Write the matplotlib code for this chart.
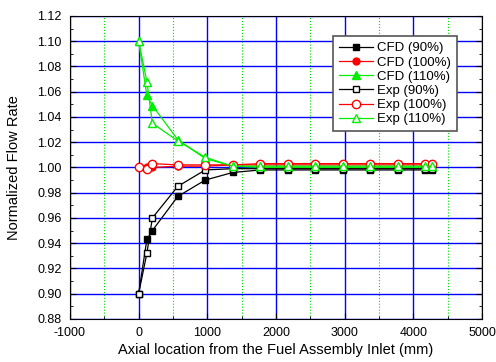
import matplotlib
matplotlib.use("Agg")
import matplotlib.pyplot as plt
from matplotlib.ticker import MultipleLocator

plt.rcParams['font.family'] = ['Liberation Sans', 'DejaVu Sans']
plt.rcParams['axes.unicode_minus'] = False

# axial positions (mm)
x_pos = [0, 120, 200, 570, 970, 1370, 1770, 2170, 2570, 2970, 3370, 3770, 4170, 4270]

cfd_90 = [0.900, 0.943, 0.950, 0.977, 0.990, 0.996, 0.998, 0.998, 0.998, 0.998, 0.998, 0.998, 0.998, 0.998]
cfd_100 = [1.000, 1.000, 1.000, 1.001, 1.001, 1.002, 1.002, 1.002, 1.002, 1.002, 1.002, 1.002, 1.002, 1.002]
cfd_110 = [1.100, 1.057, 1.049, 1.022, 1.007, 1.001, 1.000, 1.000, 1.000, 1.000, 1.000, 1.000, 1.000, 1.000]
exp_90 = [0.900, 0.932, 0.960, 0.985, 0.998, 0.999, 0.999, 0.999, 0.999, 0.999, 0.999, 0.999, 0.999, 0.999]
exp_100 = [1.000, 0.999, 1.003, 1.002, 1.002, 1.002, 1.003, 1.003, 1.003, 1.003, 1.003, 1.003, 1.003, 1.003]
exp_110 = [1.100, 1.068, 1.035, 1.021, 1.008, 1.001, 1.001, 1.001, 1.001, 1.001, 1.001, 1.001, 1.001, 1.001]

fig = plt.figure(figsize=(4.96, 3.62), dpi=100)
ax = fig.add_axes([0.141, 0.119, 0.831, 0.837])

ms = 5
ax.plot(x_pos, cfd_90, color='black', marker='s', ms=ms, lw=0.9, label='CFD (90%)', zorder=3)
ax.plot(x_pos, cfd_100, color='red', marker='o', ms=ms, lw=0.9, label='CFD (100%)', zorder=3)
ax.plot(x_pos, cfd_110, color='#00ee00', marker='^', ms=ms + 1, lw=0.9, label='CFD (110%)', zorder=3)
ax.plot(x_pos, exp_90, color='black', marker='s', ms=ms, lw=0.9, mfc='white', label='Exp (90%)', zorder=3)
ax.plot(x_pos, exp_100, color='red', marker='o', ms=ms + 1, lw=0.9, mfc='white', label='Exp (100%)', zorder=3)
ax.plot(x_pos, exp_110, color='#00ee00', marker='^', ms=ms + 1, lw=0.9, mfc='white', label='Exp (110%)', zorder=3)

ax.set_xlim(-1000, 5000)
ax.set_ylim(0.88, 1.12)
ax.xaxis.set_major_locator(MultipleLocator(1000))
ax.xaxis.set_minor_locator(MultipleLocator(500))
ax.yaxis.set_major_locator(MultipleLocator(0.02))
ax.yaxis.set_minor_locator(MultipleLocator(0.01))
ax.yaxis.set_major_formatter(plt.FuncFormatter(lambda v, p: f"{v:.2f}"))

ax.grid(True, which='major', color='blue', lw=1.0, zorder=1)
ax.grid(True, which='minor', axis='x', color='#00dd00', lw=0.8, ls=':', zorder=1)

ax.tick_params(which='both', direction='in', top=False, right=True, labelsize=9)
ax.tick_params(which='major', length=4)
ax.tick_params(which='minor', length=2.5)
ax.tick_params(axis='x', which='major', pad=6)
ax.tick_params(axis='y', which='major', pad=6)

ax.set_xlabel('Axial location from the Fuel Assembly Inlet (mm)', fontsize=10.5, labelpad=3)
ax.set_ylabel('Normalized Flow Rate', fontsize=10.5, labelpad=12)

leg = ax.legend(loc='upper right', bbox_to_anchor=(0.955, 0.955), fontsize=9.5, fancybox=False,
                framealpha=1, edgecolor='#555555', handlelength=2.6, labelspacing=0.15,
                borderpad=0.45, handletextpad=0.3)
leg.get_frame().set_linewidth(1.2)

fig.savefig('out.png', dpi=100)
